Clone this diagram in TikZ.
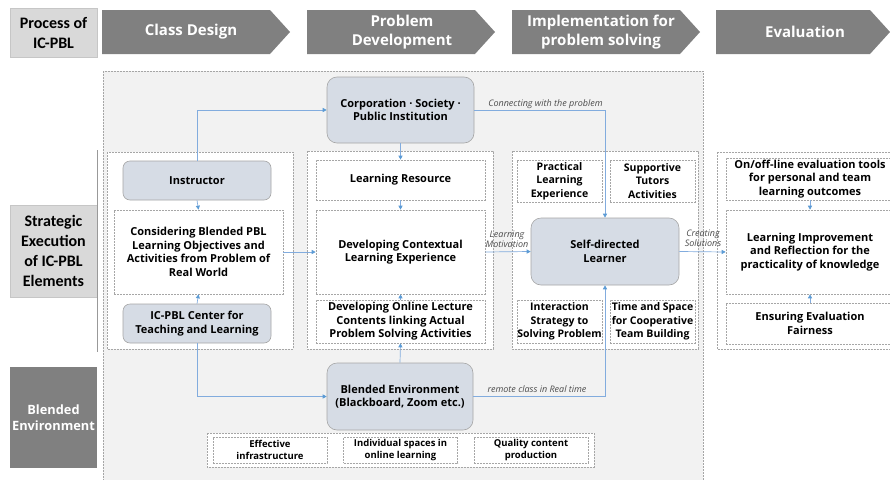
\documentclass[tikz,border=0pt]{standalone}
\usepackage{fontspec}
\setmainfont{Open Sans}
\newfontfamily\sidefont{Carlito}
\usetikzlibrary{arrows.meta,positioning}
\definecolor{chevgray}{RGB}{128,128,128}
\definecolor{sidegray}{RGB}{217,217,217}
\definecolor{bggray}{RGB}{242,242,242}
\definecolor{dashgray}{RGB}{166,166,166}
\definecolor{boxblue}{RGB}{214,220,229}
\definecolor{linkblue}{RGB}{130,172,222}
\definecolor{tipblue}{RGB}{91,155,213}

\begin{document}
\begin{tikzpicture}[x=1pt, y=-1pt,
		every node/.style = {align=center, inner sep=1pt},
		txt/.style = {font=\bfseries\fontsize{11}{13.5}\selectfont},
		dbox/.style = {txt, draw=dashgray, dash pattern=on 2pt off 1pt, line width=0.6pt, fill=white},
		rbox/.style = {txt, draw=gray!70, fill=boxblue, rounded corners=7pt, line width=0.6pt},
		sbox/.style = {dbox, font=\bfseries\fontsize{10.5}{13.5}\selectfont, inner sep=0pt, minimum width=85pt},
		group/.style = {draw=dashgray, dash pattern=on 2pt off 1pt, line width=0.6pt, fill=white},
		link/.style = {draw=linkblue, line width=0.7pt, -{Triangle[length=4pt,width=4pt,color=tipblue]}},
		lbl/.style = {font=\itshape\fontsize{9}{10}\selectfont, text=black!70},
		head/.style = {text=white, font=\bfseries\fontsize{15}{19}\selectfont},
		side/.style = {font=\sidefont\bfseries\fontsize{16}{20}\selectfont, minimum width=87pt, inner sep=0pt}]
	\useasboundingbox (0,0) rectangle (890,479);

	% process row
	\foreach \xs/\xe/\xt/\nm/\lab in {102/290/191/design/{Class Design},
			307/495/402/develop/{Problem\\Development},
			512/700/601/implement/{Implementation for\\problem solving},
			716/890/805/evaluate/{Evaluation}} {
		\fill[chevgray] (\xs,10) -- (\xe-20,10) -- (\xe,32) -- (\xe-20,54) -- (\xs,54) -- cycle;
		\node[head] (\nm) at (\xt,32) {\lab};
	}
	\node[side, draw=gray!45, fill=sidegray, minimum height=49pt] (process) at (53.5,32.5) {Process of\\IC-PBL};
	\node[side, draw=gray!45, fill=sidegray, minimum height=92pt] (strategic) at (53.5,251) {Strategic\\Execution\\of IC-PBL\\Elements};
	\node[side, fill=chevgray, text=white, font=\bfseries\fontsize{12.8}{16}\selectfont, minimum height=101pt] (blended) at (53.5,417.5) {Blended\\Environment};
	\draw[gray!80, line width=0.8pt] (97.5,150) -- (97.5,352);

	% backgrounds
	\filldraw[fill=bggray, draw=dashgray, dash pattern=on 2pt off 1pt, line width=0.6pt] (103,71) rectangle (703,484);
	\draw[group] (107,152) rectangle (293,349);
	\draw[group] (307,151) rectangle (493,349);
	\draw[group] (512,151) rectangle (698,349);
	\draw[group] (717,152) rectangle (896,349);
	\draw[group] (207,433) rectangle (594,467);

	% class design
	\node[rbox, minimum width=148pt, minimum height=39pt] (instructor) at (197,180.5) {Instructor};
	\node[dbox, minimum width=169pt, minimum height=84pt] (objectives) at (198.5,252) {Considering Blended PBL\\Learning Objectives and\\Activities from Problem of\\Real World};
	\node[rbox, minimum width=148pt, minimum height=39pt] (center) at (197,323.5) {IC-PBL Center for\\Teaching and Learning};

	% problem development
	\node[rbox, rounded corners=10pt, minimum width=147pt, minimum height=66pt] (corporation) at (400.5,110) {Corporation · Society ·\\Public Institution};
	\node[dbox, minimum width=169pt, minimum height=40pt] (resource) at (400.5,180) {Learning Resource};
	\node[dbox, minimum width=169pt, minimum height=84pt] (context) at (400.5,252) {Developing Contextual\\Learning Experience};
	\node[dbox, minimum width=169pt, minimum height=43pt] (online) at (400.5,321.5) {Developing Online Lecture\\Contents linking Actual\\Problem Solving Activities};

	% implementation
	\node[sbox, minimum height=42pt] (practical) at (559.5,181) {Practical\\Learning\\Experience};
	\node[sbox, minimum height=42pt] (tutors) at (652.5,181) {Supportive\\Tutors\\Activities};
	\node[rbox, rounded corners=10pt, minimum width=148pt, minimum height=67pt] (learner) at (605,251.5) {Self-directed\\Learner};
	\node[sbox, minimum height=43pt] (interaction) at (559.5,321.5) {Interaction\\Strategy to\\Solving Problem};
	\node[sbox, minimum height=43pt] (teamspace) at (652.5,321.5) {Time and Space\\for Cooperative\\Team Building};

	% evaluation
	\node[dbox, minimum width=168pt, minimum height=42pt] (tools) at (810,179) {On/off-line evaluation tools\\for personal and team\\learning outcomes};
	\node[dbox, minimum width=168pt, minimum height=84pt] (reflection) at (810,252) {Learning Improvement\\and Reflection for the\\practicality of knowledge};
	\node[dbox, minimum width=168pt, minimum height=41pt] (fairness) at (810,323.5) {Ensuring Evaluation\\Fairness};

	% blended environment
	\node[rbox, rounded corners=10pt, minimum width=146pt, minimum height=67pt] (environment) at (400,396.5) {Blended Environment\\(Blackboard, Zoom etc.)};
	\foreach \xc/\nm/\lab in {270/infra/{Effective\\infrastructure}, 400.5/spaces/{Individual spaces in\\online learning}, 531/quality/{Quality content\\production}}
		\node[dbox, font=\bfseries\fontsize{9.5}{12}\selectfont, inner sep=0pt, minimum width=114pt, minimum height=26pt] (\nm) at (\xc,450) {\lab};

	% connectors
	\draw[link] (instructor.north) |- (corporation.west);
	\draw[link] (instructor.south) -- (objectives.north);
	\draw[link] (center.north) -- (objectives.south);
	\draw[link] (center.south) |- (environment.west);
	\draw[link] (objectives.east) -- (context.west);
	\draw[link] (corporation.south) -- (resource.north);
	\draw[link] (resource.south) -- (context.north);
	\draw[link] (online.north) -- (context.south);
	\draw[link] (environment.north) -- (online.south);
	\draw[link] (corporation.east) -| (learner.north);
	\draw[link] (context.east) -- (learner.west);
	\draw[link] (environment.east) -| (learner.south);
	\draw[link] (learner.east) -- (reflection.west);
	\draw[link] (tools.south) -- (reflection.north);
	\draw[link] (fairness.north) -- (reflection.south);

	\node[lbl] (connecting) at (545.5,104) {Connecting with the problem};
	\node[lbl] (motivation) at (507,239) {Learning\\Motivation};
	\node[lbl] (solutions) at (703,238) {Creating\\Solutions};
	\node[lbl] (remote) at (537,389) {remote class in Real time};
\end{tikzpicture}
\end{document}
